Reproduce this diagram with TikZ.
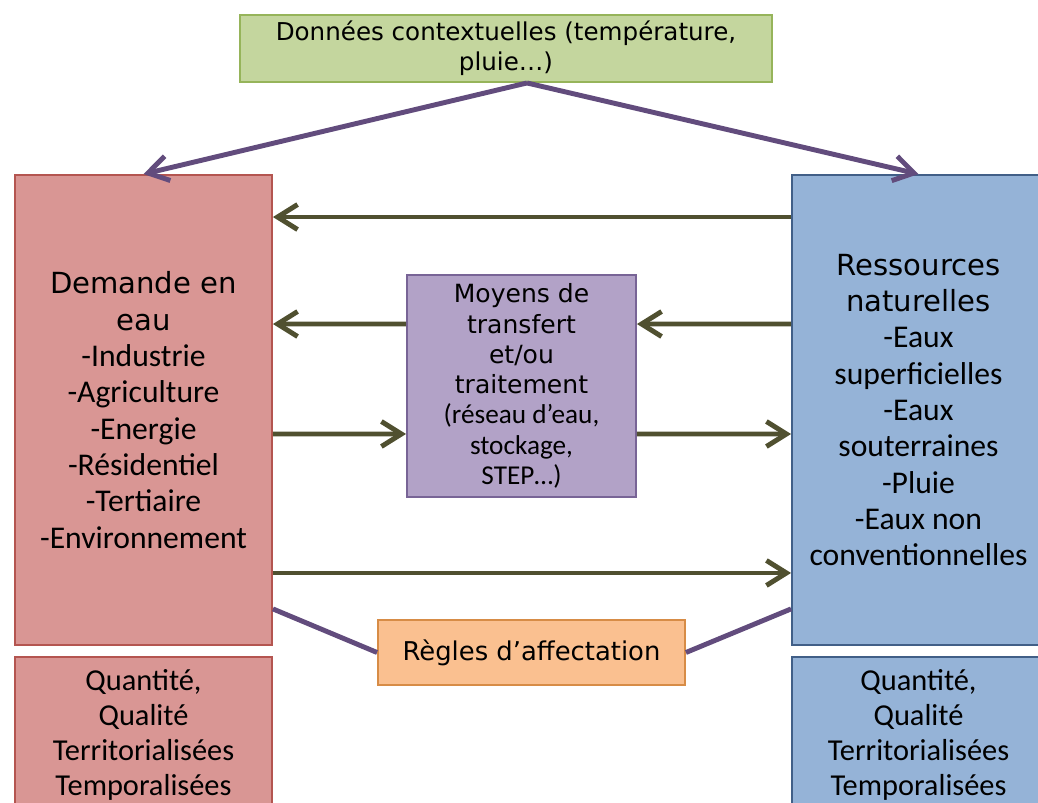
\documentclass[tikz,border=0pt]{standalone}
\usepackage{fontspec}
\setmainfont{Carlito}
\newfontfamily\verd[Scale=0.92]{DejaVu Sans}
\usetikzlibrary{arrows.meta}

\definecolor{vertfond}{RGB}{196,214,158}
\definecolor{vertbord}{RGB}{150,180,90}
\definecolor{rougefond}{RGB}{217,150,148}
\definecolor{rougebord}{RGB}{180,85,80}
\definecolor{bleufond}{RGB}{149,179,215}
\definecolor{bleubord}{RGB}{65,95,135}
\definecolor{violetfond}{RGB}{178,162,199}
\definecolor{violetbord}{RGB}{120,100,150}
\definecolor{orangefond}{RGB}{250,192,144}
\definecolor{orangebord}{RGB}{215,140,70}
\definecolor{olive}{RGB}{80,80,48}
\definecolor{lienviolet}{RGB}{98,76,125}

\newcommand\vtx[1]{{\verd #1}}

\begin{document}
\begin{tikzpicture}[x=0.02cm,y=-0.02cm,
    boite/.style={draw,line width=1.1pt,align=center,inner sep=0pt},
    flux/.style={draw=olive,line width=2.8pt,-{Straight Barb[length=4mm,width=5mm]}},
    lien/.style={draw=lienviolet,line width=2.8pt}]
\useasboundingbox (0,0) rectangle (1038,803);
\clip (0,0) rectangle (1038,803);

\node[boite,fill=vertfond,draw=vertbord,minimum width=10.64cm,minimum height=1.34cm,
    font=\fontsize{15.2}{17}\selectfont] (donnees) at (506,48.5)
    {\vtx{Données contextuelles (température,}\\\vtx{pluie…)}};
\node[boite,fill=rougefond,draw=rougebord,minimum width=5.14cm,minimum height=9.4cm,
    font=\fontsize{18}{20.7}\selectfont] (demande) at (143.5,410)
    {\vtx{Demande en}\\\vtx{eau}\\-Industrie\\-Agriculture\\-Energie\\-Résidentiel\\-Tertiaire\\-Environnement};
\node[boite,fill=bleufond,draw=bleubord,minimum width=5.06cm,minimum height=9.4cm,
    font=\fontsize{18}{20.7}\selectfont] (ressources) at (918.5,410)
    {\vtx{Ressources}\\\vtx{naturelles}\\-Eaux\\superficielles\\-Eaux\\souterraines\\-Pluie\\-Eaux non\\conventionnelles};
\node[boite,fill=violetfond,draw=violetbord,minimum width=4.58cm,minimum height=4.44cm,
    font=\fontsize{15.5}{17.2}\selectfont] (moyens) at (521.5,386)
    {\vtx{Moyens de}\\\vtx{transfert}\\\vtx{et/ou}\\\vtx{traitement}\\(réseau d’eau,\\stockage,\\STEP…)};
\node[boite,fill=orangefond,draw=orangebord,minimum width=6.14cm,minimum height=1.3cm,
    font=\fontsize{16}{19}\selectfont] (regles) at (531.5,652.5)
    {\vtx{Règles d’affectation}};
\node[boite,fill=rougefond,draw=rougebord,minimum width=5.14cm,minimum height=3.12cm,
    font=\fontsize{17.3}{19.8}\selectfont] (qdemande) at (143.5,735)
    {Quantité,\\Qualité\\Territorialisées\\Temporalisées};
\node[boite,fill=bleufond,draw=bleubord,minimum width=5.06cm,minimum height=3.12cm,
    font=\fontsize{17.3}{19.8}\selectfont] (qressources) at (918.5,735)
    {Quantité,\\Qualité\\Territorialisées\\Temporalisées};

\coordinate (sommet) at ([xshift=0.42cm]donnees.south);
\draw[lien,-{Straight Barb[length=4mm,width=5mm]}] (sommet) -- (demande.north);
\draw[lien,-{Straight Barb[length=4mm,width=5mm]}] (sommet) -- (ressources.north);

\draw[flux] ([yshift=3.86cm]ressources.west) -- ([yshift=3.86cm]demande.east);
\draw[flux] ([yshift=1.72cm]ressources.west) -- ([yshift=1.24cm]moyens.east);
\draw[flux] ([yshift=1.24cm]moyens.west) -- ([yshift=1.72cm]demande.east);
\draw[flux] ([yshift=-0.48cm]demande.east) -- ([yshift=-0.96cm]moyens.west);
\draw[flux] ([yshift=-0.96cm]moyens.east) -- ([yshift=-0.48cm]ressources.west);
\draw[flux] ([yshift=-3.26cm]demande.east) -- ([yshift=-3.26cm]ressources.west);

\draw[lien] ([yshift=0.74cm]demande.south east) -- (regles.west);
\draw[lien] (regles.east) -- ([yshift=0.74cm]ressources.south west);
\end{tikzpicture}
\end{document}
